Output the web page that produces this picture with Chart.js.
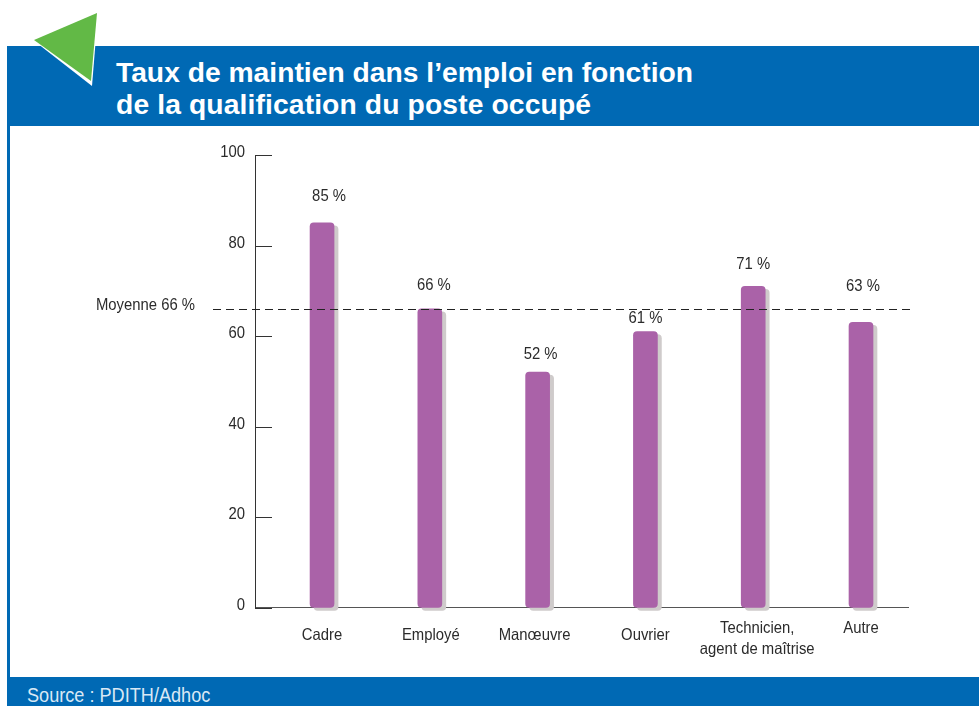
<!DOCTYPE html>
<html lang="fr">
<head>
<meta charset="utf-8">
<title>Taux de maintien dans l'emploi</title>
<script src="https://cdn.jsdelivr.net/npm/chart.js@4"></script>
<style>
  html, body { margin: 0; padding: 0; background: #fff; overflow: hidden; }
  #page { position: relative; width: 979px; height: 706px; overflow: hidden; }
  #header { position: absolute; left: 7px; top: 46px; right: 0; height: 80px; background: #0069b4; }
  #side { position: absolute; left: 7px; top: 126px; width: 3px; height: 551px; background: #0069b4; }
  #footer { position: absolute; left: 7px; top: 677px; right: 0; height: 29px; background: #0069b4; }
  #title {
    position: absolute; left: 116px; top: 56px; margin: 0; color: #fff;
    font: bold 28.25px/32px "Liberation Sans", sans-serif; white-space: nowrap;
  }
  #title span { letter-spacing: 0.12px; }
  #source {
    position: absolute; left: 27px; top: 683px; color: #d9e8f5;
    font: 20px/24px "Liberation Sans", sans-serif; white-space: nowrap;
    transform: scaleX(0.906); transform-origin: left top;
  }
  #flag { position: absolute; left: 0; top: 0; }
  #chart { position: absolute; left: 0; top: 0; }
</style>
</head>
<body>
<div id="page">
  <div id="header"></div>
  <div id="side"></div>
  <div id="footer"></div>
  <svg id="flag" width="110" height="95">
    <polygon points="98,12 33,40 92,86" fill="#fff"/>
    <polygon points="97,13 34,40 91,81" fill="#62b946"/>
  </svg>
  <h1 id="title">Taux de maintien dans l’emploi en fonction<br><span>de la qualification du poste occupé</span></h1>
  <div id="source">Source : PDITH/Adhoc</div>
  <canvas id="chart" width="979" height="706"></canvas>
</div>
<script>
const categories = [['Cadre'], ['Employé'], ['Manœuvre'], ['Ouvrier'], ['Technicien,', 'agent de maîtrise'], ['Autre']];
const values = [85, 66, 52, 61, 71, 63];
const valueLabels = ['85 %', '66 %', '52 %', '61 %', '71 %', '63 %'];
const yTicks = [0, 20, 40, 60, 80, 100];
const average = 66;
const averageLabel = 'Moyenne 66 %';

// the source hand-placed its labels, so they need per-bar nudges
const valueLabelGap = [26, 23, 18, 13, 22, 36];
const valueLabelDx = [7, 4, 3, 0, 0, 2];
const categoryLabelY = [635, 635, 635, 635, 628, 628];
const categoryLabelDx = [0, 1, -3, 0, 4, 0];

const LABEL_FONT = '16.5px "Liberation Sans", sans-serif';
const NARROW = 0.9;   // no condensed face installed, so squeeze the glyphs
const TEXT = '#2b2b2b';

function narrowText(ctx, text, x, y) {
  ctx.save();
  ctx.translate(x, y);
  ctx.scale(NARROW, 1);
  ctx.fillText(text, 0, 0);
  ctx.restore();
}

const drawExtras = {
  id: 'drawExtras',
  beforeDatasetDraw(chart) {
    // flat grey shadow behind the bars
    const ctx = chart.ctx;
    ctx.shadowColor = '#cfcbcb';
    ctx.shadowOffsetX = 4;
    ctx.shadowOffsetY = 3;
    ctx.shadowBlur = 0;
  },
  afterDatasetDraw(chart) {
    const ctx = chart.ctx;
    ctx.shadowColor = 'transparent';
    ctx.shadowOffsetX = 0;
    ctx.shadowOffsetY = 0;
  },
  afterDraw(chart) {
    const ctx = chart.ctx;
    const x = chart.scales.x;
    const y = chart.scales.y;
    ctx.save();
    ctx.font = LABEL_FONT;
    ctx.fillStyle = TEXT;

    /* ── y ticks point inwards ── */
    ctx.strokeStyle = '#333';
    ctx.lineWidth = 1;
    yTicks.forEach(t => {
      const py = Math.round(y.getPixelForValue(t)) + 0.5;
      ctx.beginPath();
      ctx.moveTo(x.left, py);
      ctx.lineTo(x.left + 17, py);
      ctx.stroke();
    });

    ctx.textAlign = 'right';
    ctx.textBaseline = 'middle';
    yTicks.forEach(t => narrowText(ctx, String(t), x.left - 10, y.getPixelForValue(t) - 2.5));

    /* ── average line ── */
    const avgY = Math.round(y.getPixelForValue(average)) + 0.5;
    ctx.save();
    ctx.strokeStyle = '#222';
    ctx.setLineDash([8, 5]);
    ctx.beginPath();
    ctx.moveTo(x.left - 42, avgY);
    ctx.lineTo(x.right + 4, avgY);
    ctx.stroke();
    ctx.restore();
    narrowText(ctx, averageLabel, x.left - 60, avgY - 4);

    /* ── value and category labels ── */
    ctx.textAlign = 'center';
    values.forEach((v, i) => {
      const px = x.getPixelForValue(i);
      narrowText(ctx, valueLabels[i], px + valueLabelDx[i], y.getPixelForValue(v) - valueLabelGap[i]);
      categories[i].forEach((line, j) => narrowText(ctx, line, px + categoryLabelDx[i], categoryLabelY[i] + j * 21));
    });
    ctx.restore();
  }
};

new Chart(document.getElementById('chart').getContext('2d'), {
  type: 'bar',
  data: {
    datasets: [{
      data: values.map((v, i) => ({ x: i, y: v })),
      backgroundColor: '#aa62a8',
      barThickness: 24,
      borderRadius: 4,
      borderSkipped: false,
      clip: false
    }]
  },
  options: {
    responsive: false,
    animation: false,
    layout: { padding: { left: 255, right: 71, top: 155, bottom: 98.5 } },
    plugins: { legend: { display: false }, tooltip: { enabled: false } },
    scales: {
      x: {
        type: 'linear',
        offset: false,
        min: -0.622,
        max: 5.436,
        grid: { display: false, drawTicks: false },
        border: { color: '#555', width: 1 },
        ticks: { display: false }
      },
      y: {
        min: 0,
        max: 100,
        grid: { display: false, drawTicks: false },
        border: { color: '#333', width: 1 },
        ticks: { display: false, stepSize: 20 }
      }
    }
  },
  plugins: [drawExtras]
});
</script>
</body>
</html>
